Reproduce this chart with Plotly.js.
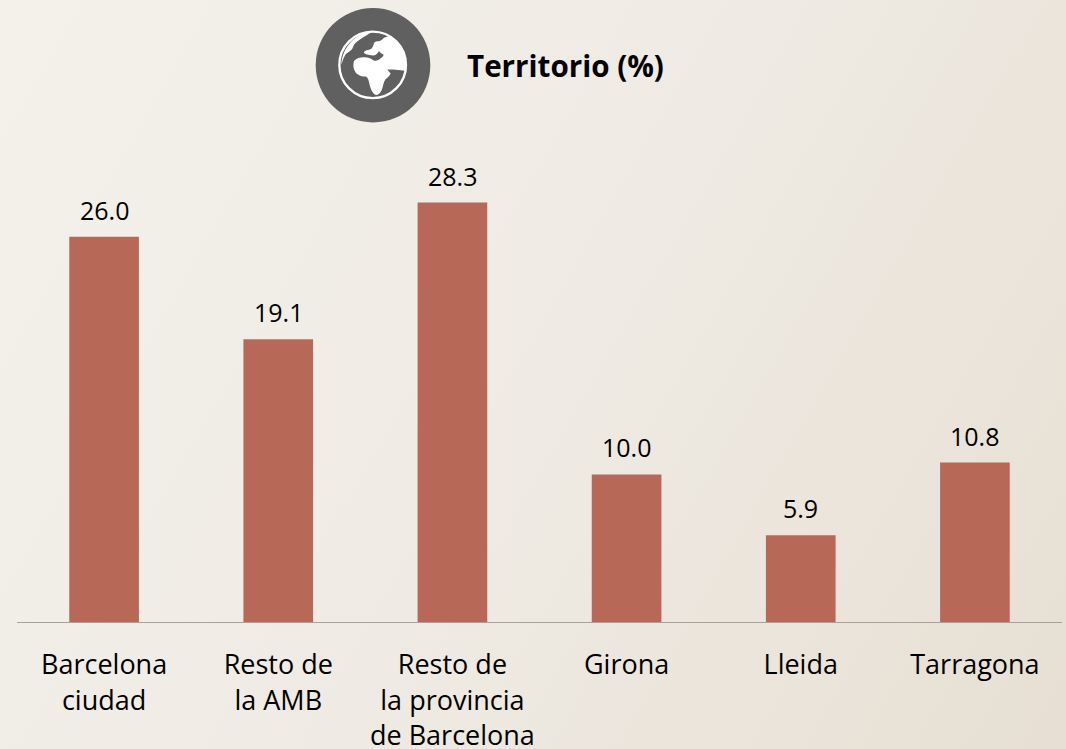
<!DOCTYPE html>
<html><head><meta charset="utf-8">
<script src="https://cdn.plot.ly/plotly-3.0.1.min.js"></script>
<style>
html,body{margin:0;padding:0;width:1066px;height:749px;overflow:hidden;background:linear-gradient(120deg,#f4f1eb 0%,#efebe4 50%,#e7dfd3 100%);}
#c{width:1066px;height:749px;}
</style></head><body><div id="c"></div>
<script>
const categories = ["Barcelona<br>ciudad","Resto de<br>la AMB","Resto de<br>la provincia<br>de Barcelona","Girona","Lleida","Tarragona"];
const values = [26.0,19.1,28.3,10.0,5.9,10.8];
const labels = ["26.0","19.1","28.3","10.0","5.9","10.8"];
const chartTitle = "Territorio (%)";
const FONT = "'Open Sans', sans-serif";

const globe = `<svg xmlns="http://www.w3.org/2000/svg" viewBox="0 0 150 130" width="450" height="390">
<circle cx="73" cy="65" r="57.3" fill="#606060"/>
<g transform="translate(30,22) scale(0.33333)" fill="#fff">
<circle cx="128" cy="128" r="100" fill="none" stroke="#fff" stroke-width="7"/>
<path d="M34 128 C38 112 44 100 48 95 C56 88 66 84 68 76 C72 64 80 58 92 50 C104 42 116 34 128 28 C90 26 36 66 34 128Z"/>
<path d="M132 62 C140 52 150 62 162 46 C172 42 180 40 186 46 C212 66 230 100 229 146 C222 146 214 143 205 143 C194 142 184 142 172 142 C176 148 180 152 182 154 C178 162 172 168 166 172 C160 180 160 192 155 204 C150 214 144 219 136 218 C126 212 121 198 118 184 C116 174 114 168 108 163 C98 164 86 160 78 152 C70 142 68 128 72 116 C80 108 90 105 100 105 C112 104 122 108 130 114 C138 118 146 114 152 108 C158 104 162 100 160 96 C154 94 150 90 147 86 C143 92 140 98 130 100 C120 98 110 98 102 92 C102 86 110 84 120 82 C128 78 130 70 132 62Z"/>
</g></svg>`;

const data = [{
  type:"bar", x:categories, y:values,
  marker:{color:"#b86857",line:{width:0}},
  hoverinfo:"skip"
}];
const valueLabels = labels.map((t,i)=>({
  text:t,x:categories[i],y:values[i],xref:"x",yref:"y",showarrow:false,
  xanchor:"center",yanchor:"bottom",yshift:8,
  font:{family:FONT,size:25,color:"#000"}
}));
const layout = {
  width:1066,height:749,showlegend:false,
  paper_bgcolor:"rgba(0,0,0,0)",plot_bgcolor:"rgba(0,0,0,0)",
  margin:{l:17,r:4,t:177.5,b:125.5,autoexpand:false},
  bargap:0.6,
  xaxis:{type:"category",range:[-0.5,5.5],showgrid:false,zeroline:false,showline:false,ticks:"outside",ticklen:18,tickcolor:"rgba(0,0,0,0)",
    tickfont:{family:FONT,size:27,color:"#000"},tickangle:0,automargin:false},
  yaxis:{range:[0,29.95],visible:false,fixedrange:true},
  shapes:[{type:"line",xref:"paper",yref:"y",x0:0,x1:1,y0:0,y1:0,line:{color:"#a5a29c",width:2},layer:"above"}],
  images:[{source:"data:image/svg+xml;utf8,"+encodeURIComponent(globe),xref:"paper",yref:"paper",
    x:(300-17)/1045,y:624/446,sizex:150/1045,sizey:130/446,xanchor:"left",yanchor:"top",layer:"above",sizing:"stretch"}],
  annotations:[{text:"<b>"+chartTitle+"</b>",xref:"paper",yref:"paper",x:(465-17)/1045,y:(624.5-66)/446,xanchor:"left",yanchor:"middle",showarrow:false,
    font:{family:FONT,size:29.6,color:"#000"}}].concat(valueLabels)
};
Plotly.newPlot("c",data,layout,{displayModeBar:false,staticPlot:true});
</script></body></html>
